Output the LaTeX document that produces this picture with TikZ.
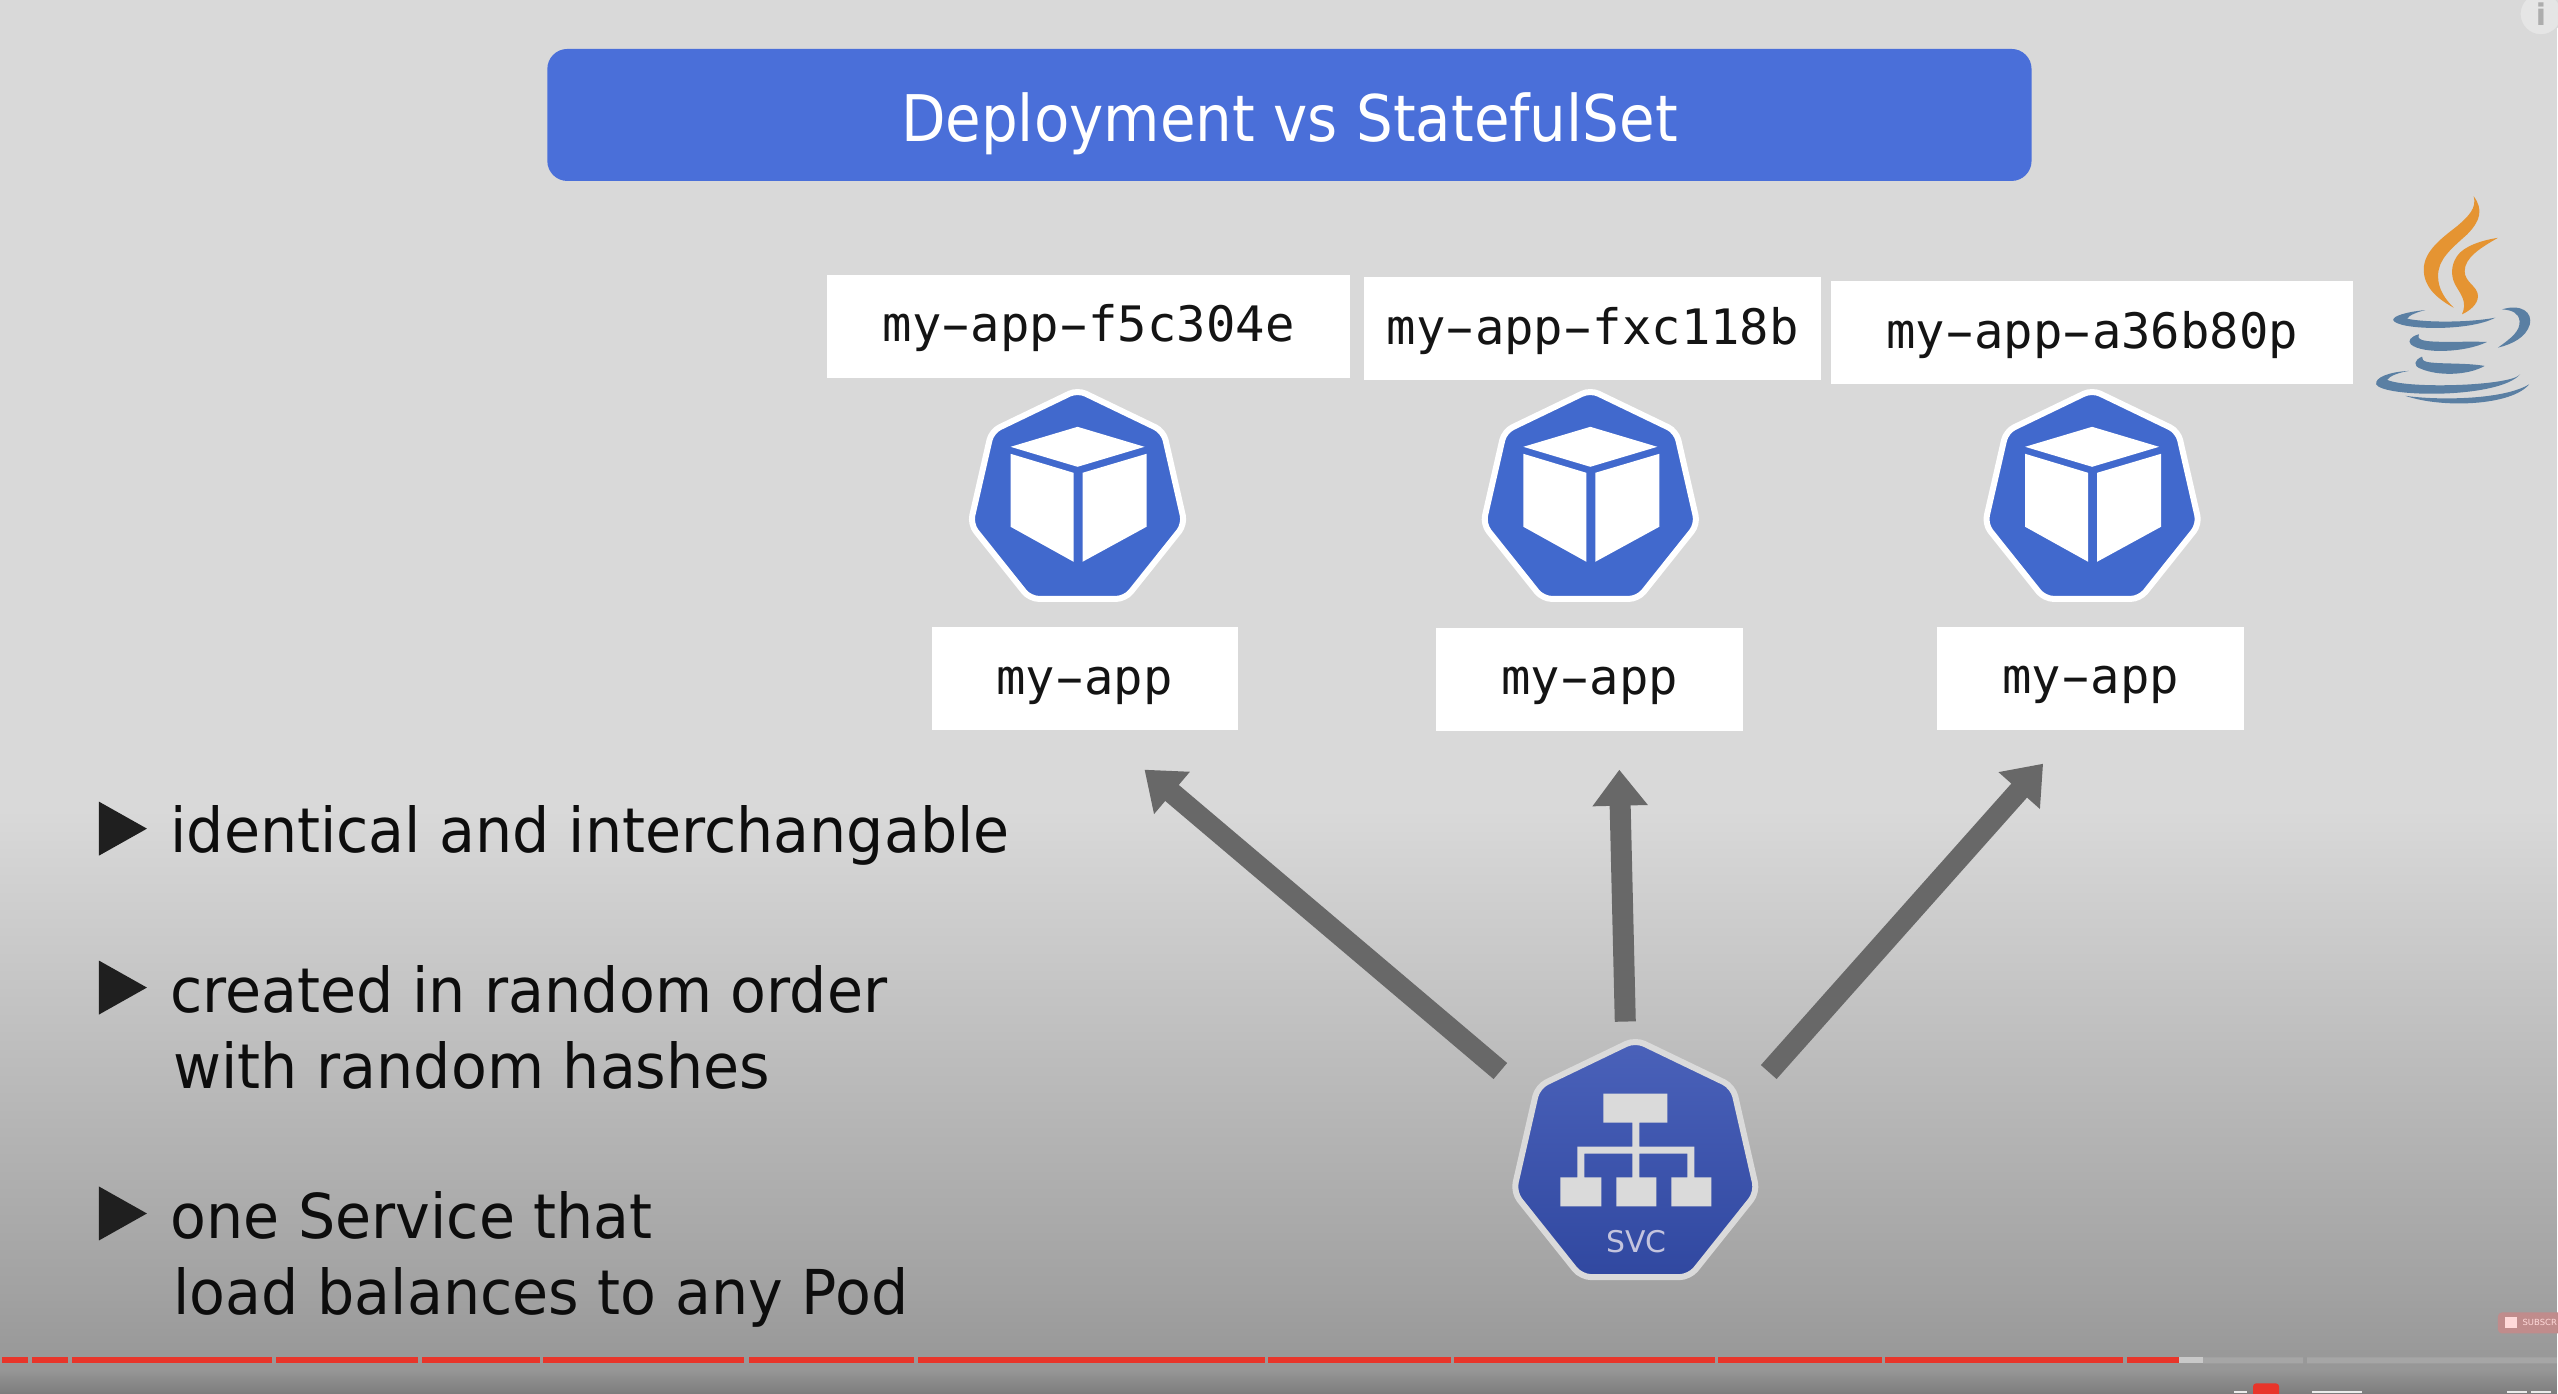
\documentclass[tikz,border=0pt]{standalone}
\usepackage{fontspec}
\usepackage{graphicx}
\usetikzlibrary{arrows.meta,shapes.geometric}
\setmainfont{DejaVu Sans}
\setmonofont{DejaVu Sans Mono}
\newfontfamily\slidefont[FakeStretch=0.948]{DejaVu Sans}
\newfontfamily\titlefont[FakeStretch=0.9]{DejaVu Sans}
\newcommand\wdash{\makebox[0.602em]{\scalebox{1.8}[1]{-}}}
\definecolor{slidegrey}{HTML}{D9D9D9}
\definecolor{titleblue}{HTML}{4A6FD9}
\definecolor{podblue}{HTML}{4169CD}
\definecolor{svcblue}{HTML}{3650B2}
\definecolor{svcpale}{HTML}{DADADA}
\definecolor{arrowgrey}{HTML}{686868}
\definecolor{barred}{HTML}{E8352A}
\definecolor{bargrey}{HTML}{A6A6A6}
\definecolor{javaorange}{HTML}{E59432}
\definecolor{javablue}{HTML}{5A7FA3}
\begin{document}
\begin{tikzpicture}[x=0.01cm,y=-0.01cm,
  namebox/.style={fill=white,inner sep=0pt,text height=0.67cm,text depth=0.36cm,
    font=\ttfamily\fontsize{13.9}{16}\selectfont,text=black!92},
  podicon/.style={regular polygon,regular polygon sides=7,minimum size=2.2cm,inner sep=0pt,
    fill=podblue,draw=white,line width=0.06cm,rounded corners=0.09cm},
  bullettext/.style={anchor=base west,inner sep=0pt,text=black!95,
    font=\slidefont\fontsize{17.6}{20}\selectfont},
  flowarrow/.style={draw=arrowgrey,line width=0.21cm,
    -{Triangle[width=0.53cm,length=0.36cm]}},
  bulletmark/.style={fill=black!88}]
\global\def\cubefill{\fill[white]}
\global\def\logofill{\fill[javablue]}
\useasboundingbox (0bp,0bp) rectangle (725bp,-395bp);
% backdrop
\fill[slidegrey] (0,0) rectangle (2558,811);
\fill[top color=slidegrey,bottom color=black!37] (0,810) rectangle (2558,1301);
\fill[top color=black!37,bottom color=black!41] (0,1300) rectangle (2558,1371);
\fill[top color=black!41,bottom color=black!51] (0,1370) rectangle (2558,1394);
% title
\node[fill=titleblue,rounded corners=0.2cm,minimum width=14.84cm,inner sep=0pt,text height=0.93cm,text depth=0.39cm,
  text=white,font=\titlefont\fontsize{18.3}{22}\selectfont] (title) at (1290,115) {Deployment vs StatefulSet};
% pod names
\node[namebox,minimum width=5.22cm] (nameA) at (1089,326.5) {my\wdash app\wdash f5c304e};
\node[namebox,minimum width=4.57cm] (nameB) at (1593.5,329) {my\wdash app\wdash fxc118b};
\node[namebox,minimum width=5.22cm] (nameC) at (2093,333) {my\wdash app\wdash a36b80p};
\node[namebox,minimum width=3.06cm] (appA) at (1085,679) {my\wdash app};
\node[namebox,minimum width=3.07cm] (appB) at (1590.5,679.5) {my\wdash app};
\node[namebox,minimum width=3.07cm] (appC) at (2091.5,678.5) {my\wdash app};
% pods
\node[podicon] (podA) at (1078,500) {};
\node[podicon] (podB) at (1591,500) {};
\node[podicon] (podC) at (2093,500) {};
\foreach \p in {podA,podB,podC}{
  \cubefill[shift={(\p.center)}] (0,-73) -- (67,-53) -- (0,-33) -- (-67,-53) -- cycle;
  \cubefill[shift={(\p.center)}] (-67,-46) -- (-4,-27) -- (-4,62) -- (-67,27) -- cycle;
  \cubefill[shift={(\p.center)}] (5,-27) -- (69,-46) -- (69,27) -- (5,62) -- cycle;
}
% service
\node[regular polygon,regular polygon sides=7,minimum size=2.5cm,inner sep=0pt,rounded corners=0.1cm,
  top color=svcblue!90!white,bottom color=svcblue!90!black,draw=svcpale,line width=0.06cm] (svc) at (1636,1165) {};
\fill[svcpale,shift={(svc.center)}] (-32,-71) rectangle (32,-42)
  (-3,-42) rectangle (4,13) (-58,-18) rectangle (59,-11)
  (-58,-11) rectangle (-51,13) (52,-11) rectangle (59,13)
  (-75,13) rectangle (-34,42) (-19,13) rectangle (21,42) (36,13) rectangle (76,42);
\node[anchor=base,inner sep=0pt,text=svcpale!90!blue,font=\fontsize{8.5}{10}\selectfont] (svcname) at (1637,1253) {SVC};
% arrows
\coordinate (tailA) at (1501,1071.5);
\coordinate (tipA) at (1145,770);
\coordinate (tailB) at (1626,1022);
\coordinate (tipB) at (1620,770);
\coordinate (tailC) at (1769.5,1072.5);
\coordinate (tipC) at (2044,764);
\draw[flowarrow] (tailA) -- (tipA);
\draw[flowarrow] (tailB) -- (tipB);
\draw[flowarrow] (tailC) -- (tipC);
% bullets
\foreach \y in {802,961,1187}
  \fill[bulletmark] (99,\y) -- (147,\y+27) -- (99,\y+54) -- cycle;
\node[bullettext] (lineA) at (170,853) {identical and interchangable};
\node[bullettext] (lineB) at (170,1013) {created in random order};
\node[bullettext] (lineC) at (173,1089) {with random hashes};
\node[bullettext] (lineD) at (170,1239) {one Service that};
\node[bullettext] (lineE) at (173,1315) {load balances to any Pod};
% java
\begin{scope}[shift={(2300,0)},x=0.00333cm,y=-0.00333cm]
\fill[javaorange] (525,590) .. controls (555,630) and (545,665) .. (505,705)
  .. controls (455,750) and (418,780) .. (418,830)
  .. controls (418,870) and (440,900) .. (465,925)
  .. controls (410,895) and (375,860) .. (375,810)
  .. controls (375,755) and (430,715) .. (475,680)
  .. controls (510,650) and (535,625) .. (525,590) -- cycle;
\fill[javaorange] (598,715) .. controls (545,745) and (498,775) .. (498,815)
  .. controls (498,850) and (538,860) .. (538,890)
  .. controls (538,915) and (512,935) .. (490,945)
  .. controls (505,910) and (490,890) .. (475,865)
  .. controls (455,835) and (455,800) .. (475,770)
  .. controls (495,740) and (550,722) .. (598,715) -- cycle;
\logofill (380,932) .. controls (320,938) and (283,950) .. (283,962)
  .. controls (295,992) and (510,998) .. (590,955)
  .. controls (510,970) and (380,970) .. (325,958)
  .. controls (330,948) and (355,938) .. (380,932) -- cycle;
\logofill (610,930) .. controls (670,912) and (702,940) .. (694,975)
  .. controls (682,1015) and (640,1035) .. (598,1045)
  .. controls (640,1015) and (665,995) .. (663,965)
  .. controls (660,940) and (640,932) .. (610,930) -- cycle;
\logofill (360,1005) .. controls (335,1012) and (326,1025) .. (336,1035)
  .. controls (370,1065) and (500,1060) .. (565,1028)
  .. controls (500,1025) and (400,1032) .. (370,1022)
  .. controls (358,1018) and (358,1012) .. (360,1005) -- cycle;
\logofill (370,1072) .. controls (345,1083) and (343,1100) .. (365,1108)
  .. controls (420,1132) and (510,1128) .. (558,1100)
  .. controls (500,1090) and (420,1095) .. (385,1088)
  .. controls (372,1085) and (370,1080) .. (370,1072) -- cycle;
\logofill (330,1115) .. controls (270,1118) and (228,1135) .. (232,1155)
  .. controls (250,1195) and (600,1200) .. (665,1125)
  .. controls (640,1160) and (330,1170) .. (265,1142)
  .. controls (272,1130) and (300,1120) .. (330,1115) -- cycle;
\logofill (320,1190) .. controls (430,1205) and (620,1200) .. (692,1155)
  .. controls (640,1220) and (430,1228) .. (320,1190) -- cycle;
\end{scope}
% player
\node[circle,fill=white!90!black,draw=black!15,minimum size=0.42cm,inner sep=0pt] (info) at (2542,14) {};
\node[inner sep=0pt,text=black!32,font=\bfseries\fontsize{8.5}{10}\selectfont] (infomark) at (2542,14) {i};
\foreach \a/\b in {2/28,32/68,72/272,276/418,422.5/540,543/744,749/914,918/1266,1269/1452,1455/1716,1719/1883,1886/2124,2128/2180}
  \fill[barred] (\a,1358) rectangle (\b,1364);
\fill[black!21] (2180,1358) rectangle (2204,1364);
\fill[bargrey] (2204,1358) rectangle (2304,1364) (2308,1358) rectangle (2558,1364);
\fill[red!45!black!45!white,rounded corners=0.04cm] (2499,1313) rectangle (2570,1334);
\fill[white!85!red] (2506,1318) rectangle (2518.5,1329);
\node[anchor=base west,inner sep=0pt,text=white!85!red,font=\fontsize{2.4}{3}\selectfont] (subscribe) at (2523,1326) {SUBSCR};
\fill[barred,rounded corners=0.03cm] (2254,1384) rectangle (2280,1400);
\foreach \a/\b in {2235/2248,2313/2363,2508/2528,2532/2552}
  \fill[white!92!black] (\a,1392) rectangle (\b,1394);
\end{tikzpicture}
\end{document}
